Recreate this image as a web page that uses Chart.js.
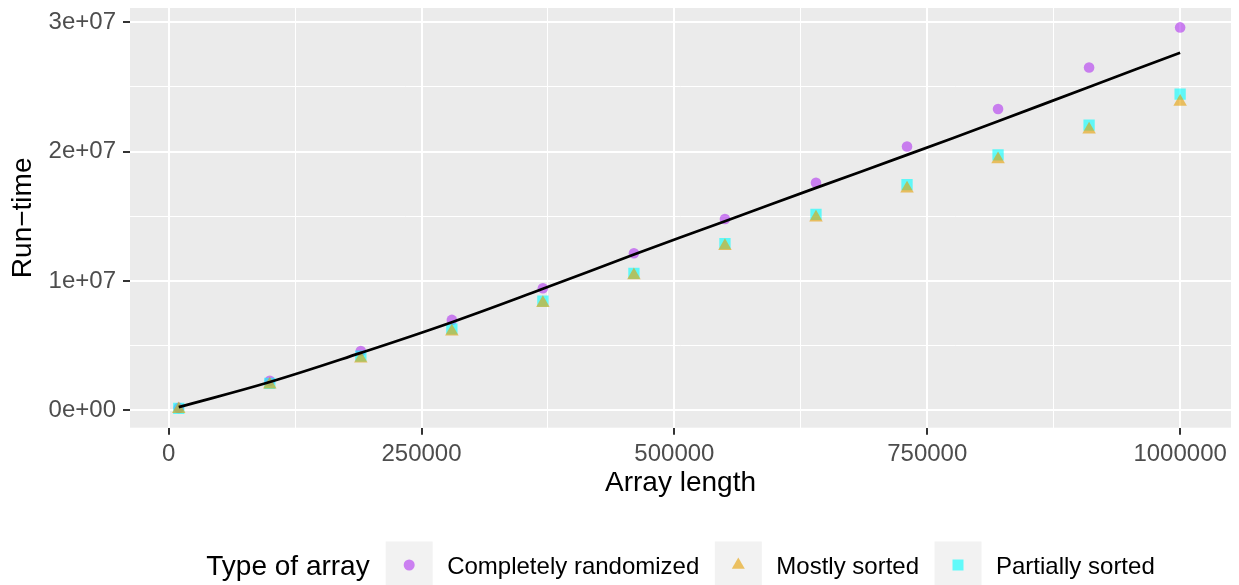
<!DOCTYPE html>
<html>
<head>
<meta charset="utf-8">
<title>Run-time by array length</title>
<script src="https://cdn.jsdelivr.net/npm/chart.js@4.4.1/dist/chart.umd.min.js"></script>
<style>
  html, body { margin: 0; padding: 0; background: #ffffff; }
  #wrap { width: 1239px; height: 585px; }
</style>
</head>
<body>
<div id="wrap"><canvas id="runtime-chart"></canvas></div>
<script>
// array lengths that were tested
var arrayLengths = [10000, 100000, 190000, 280000, 370000, 460000, 550000, 640000, 730000, 820000, 910000, 1000000];

// run-time per type of array
var completelyRandomized = [200000, 2300000, 4600000, 7000000, 9450000, 12150000, 14800000, 17600000, 20400000, 23300000, 26500000, 29600000];
var mostlySorted = [100000, 2000000, 4000000, 6100000, 8300000, 10450000, 12700000, 14900000, 17150000, 19400000, 21700000, 23850000];
var partiallySorted = [170000, 2100000, 4200000, 6300000, 8450000, 10600000, 12900000, 15150000, 17450000, 19750000, 22050000, 24450000];

// fitted curve (black line)
var fittedRunTime = [260000, 2200000, 4450000, 6820000, 9400000, 12050000, 14630000, 17200000, 19750000, 22350000, 25000000, 27650000];

var seriesNames = ["Completely randomized", "Mostly sorted", "Partially sorted"];
var legendTitle = "Type of array";

var xMajorTicks = [0, 250000, 500000, 750000, 1000000];
var xMinorTicks = [125000, 375000, 625000, 875000];
var xTickLabels = ["0", "250000", "500000", "750000", "1000000"];

var yMajorTicks = [0, 10000000, 20000000, 30000000];
var yMinorTicks = [5000000, 15000000, 25000000];
var yTickLabels = ["0e+00", "1e+07", "2e+07", "3e+07"];

var purple = "rgba(177, 52, 240, 0.6)";
var gold = "rgba(230, 159, 0, 0.6)";
var cyan = "rgba(0, 255, 255, 0.6)";

Chart.defaults.font.family = '"Liberation Sans", Arial, sans-serif';

function toPoints(values) {
  return arrayLengths.map(function (x, i) {
    return { x: x, y: values[i] };
  });
}

function labelFor(major, labels) {
  return function (value) {
    var i = major.indexOf(value);
    return i >= 0 ? labels[i] : "";
  };
}

function isMajor(ctx, major) {
  return ctx.tick && major.indexOf(ctx.tick.value) >= 0;
}

function allTicks(major, minor) {
  return major.concat(minor).sort(function (a, b) { return a - b; }).map(function (v) {
    return { value: v };
  });
}

var panelBackground = {
  id: "panelBackground",
  beforeDraw: function (chart) {
    var a = chart.chartArea;
    var ctx = chart.ctx;
    ctx.save();
    ctx.fillStyle = "#ebebeb";
    ctx.fillRect(a.left, a.top, a.right - a.left, a.bottom - a.top);
    ctx.restore();
  },
};

// ggplot style legend below the plot
var bottomLegend = {
  id: "bottomLegend",
  afterDraw: function (chart) {
    var ctx = chart.ctx;
    var a = chart.chartArea;
    var cy = 565;
    var key = 47, titleGap = 16, keyGap = 14.5, itemGap = 15.5;
    var shapes = ["circle", "triangle", "rect"];
    var fills = [purple, gold, cyan];

    ctx.save();
    ctx.font = '28px "Liberation Sans", Arial, sans-serif';
    var titleW = ctx.measureText(legendTitle).width;
    ctx.font = '24px "Liberation Sans", Arial, sans-serif';
    var widths = seriesNames.map(function (n) { return ctx.measureText(n).width; });

    var total = titleW + titleGap;
    widths.forEach(function (w, i) {
      total += key + keyGap + w + (i > 0 ? itemGap : 0);
    });
    var x = (a.left + a.right) / 2 - total / 2;

    ctx.fillStyle = "#000000";
    ctx.textBaseline = "alphabetic";
    ctx.font = '28px "Liberation Sans", Arial, sans-serif';
    ctx.fillText(legendTitle, x, cy + 10);
    x += titleW + titleGap;

    ctx.font = '24px "Liberation Sans", Arial, sans-serif';
    for (var i = 0; i < seriesNames.length; i++) {
      ctx.fillStyle = "#f2f2f2";
      ctx.fillRect(x, cy - key / 2, key, key);
      var cx = x + key / 2;
      ctx.fillStyle = fills[i];
      ctx.beginPath();
      if (shapes[i] === "circle") {
        ctx.arc(cx, cy, 5.5, 0, Math.PI * 2);
      } else if (shapes[i] === "triangle") {
        ctx.moveTo(cx, cy - 7.5);
        ctx.lineTo(cx + 6.5, cy + 3.75);
        ctx.lineTo(cx - 6.5, cy + 3.75);
        ctx.closePath();
      } else {
        ctx.rect(cx - 5.5, cy - 5.5, 11, 11);
      }
      ctx.fill();
      x += key + keyGap;
      ctx.fillStyle = "#000000";
      ctx.fillText(seriesNames[i], x, cy + 8.6);
      x += widths[i] + itemGap;
    }
    ctx.restore();
  },
};

var ctx = document.getElementById("runtime-chart");
var runtimeChart = new Chart(ctx, {
  type: "scatter",
  data: {
    datasets: [
      {
        label: "fit",
        data: toPoints(fittedRunTime),
        showLine: true,
        borderColor: "#000000",
        borderWidth: 2.7,
        pointRadius: 0,
        fill: false,
        tension: 0.4,
        order: 0,
      },
      {
        label: seriesNames[1],
        data: toPoints(mostlySorted),
        pointStyle: "triangle",
        pointRadius: 7.8,
        pointBackgroundColor: gold,
        pointBorderWidth: 0,
        order: 1,
      },
      {
        label: seriesNames[2],
        data: toPoints(partiallySorted),
        pointStyle: "rect",
        pointRadius: 8,
        pointBackgroundColor: cyan,
        pointBorderWidth: 0,
        order: 2,
      },
      {
        label: seriesNames[0],
        data: toPoints(completelyRandomized),
        pointStyle: "circle",
        pointRadius: 5.3,
        pointBackgroundColor: purple,
        pointBorderWidth: 0,
        order: 3,
      },
    ],
  },
  options: {
    responsive: true,
    maintainAspectRatio: false,
    animation: false,
    events: [],
    layout: {
      padding: { top: 6.5, right: 6, bottom: 77.3, left: 0 },
    },
    plugins: {
      legend: { display: false },
      tooltip: { enabled: false },
    },
    scales: {
      x: {
        type: "linear",
        min: -38200,
        max: 1050300,
        afterBuildTicks: function (scale) {
          scale.ticks = allTicks(xMajorTicks, xMinorTicks);
        },
        afterFit: function (scale) {
          scale.height = 80;
          scale.paddingLeft = 0;
          scale.paddingRight = 0;
        },
        ticks: {
          callback: labelFor(xMajorTicks, xTickLabels),
          autoSkip: false,
          maxRotation: 0,
          padding: 5,
          color: "#4d4d4d",
          font: { size: 24 },
        },
        grid: {
          color: "#ffffff",
          lineWidth: function (c) { return isMajor(c, xMajorTicks) ? 2 : 1; },
          tickColor: function (c) { return isMajor(c, xMajorTicks) ? "#333333" : "rgba(0,0,0,0)"; },
          tickLength: 7,
          tickWidth: 2,
        },
        border: { display: false },
        title: {
          display: true,
          text: "Array length",
          color: "#000000",
          font: { size: 28 },
          padding: { top: 0, bottom: 8 },
        },
      },
      y: {
        type: "linear",
        min: -1330000,
        max: 31100000,
        afterBuildTicks: function (scale) {
          scale.ticks = allTicks(yMajorTicks, yMinorTicks);
        },
        afterFit: function (scale) {
          scale.width = 130;
          scale.paddingTop = 0;
          scale.paddingBottom = 0;
        },
        ticks: {
          callback: labelFor(yMajorTicks, yTickLabels),
          autoSkip: false,
          padding: 7,
          color: "#4d4d4d",
          font: { size: 24 },
        },
        grid: {
          color: "#ffffff",
          lineWidth: function (c) { return isMajor(c, yMajorTicks) ? 2 : 1; },
          tickColor: function (c) { return isMajor(c, yMajorTicks) ? "#333333" : "rgba(0,0,0,0)"; },
          tickLength: 7,
          tickWidth: 2,
        },
        border: { display: false },
        title: {
          display: true,
          text: "Run−time",
          color: "#000000",
          font: { size: 28 },
          padding: { top: 6, bottom: 0 },
        },
      },
    },
  },
  plugins: [panelBackground, bottomLegend],
});
</script>
</body>
</html>
